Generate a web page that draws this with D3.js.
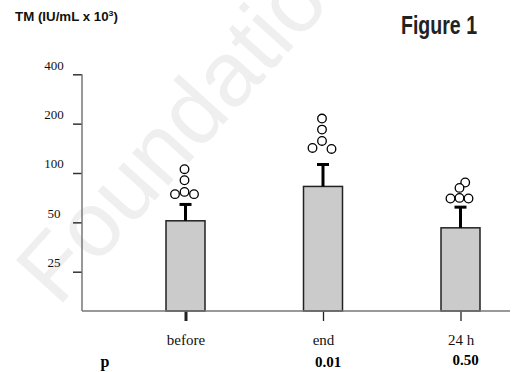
<!DOCTYPE html>
<html>
<head>
<meta charset="utf-8">
<script src="https://cdn.jsdelivr.net/npm/d3@7"></script>
<style>
  body { margin: 0; background: #fff; }
  svg { display: block; }
</style>
</head>
<body>
<div id="chart"></div>
<script>
// Time points and p values
const categories = ['before', 'end', '24 h'];
const pValues = ['', '0.01', '0.50'];

// Mean TM (IU/mL x 10^3) and upper error (mean + SE)
const means = [51.1, 82.8, 46.3];
const upperErr = [64.3, 112.7, 61.9];

// Individual points above each bar, with a small side slot for overlap
const pointsBefore = [105.5, 90.3, 76.7, 74.3, 74.3];
const pointsEnd = [214.8, 184, 156.9, 142.2, 140.2];
const points24h = [87.5, 81.1, 70.5, 69.9, 69.9];
const slotsBefore = [0, 0, 0, -1, 1];
const slotsEnd = [0, 0, 0, -1, 1];
const slots24h = [0.6, 0, 0, -0.95, 0.95];

const yTicks = [25, 50, 100, 200, 400];

const width = 513, height = 372;
const plotBottom = 311;

const svg = d3.select("#chart")
    .append("svg")
    .attr("width", width)
    .attr("height", height);

// watermark
svg.append("text")
    .attr("transform", "translate(58,308) rotate(-48)")
    .style("font-family", "'Liberation Sans', Arial, sans-serif")
    .style("font-size", "92px")
    .style("fill", "#efefef")
    .text("Foundation");

const x = d3.scalePoint()
    .domain(categories)
    .range([185.5, 460.5]);

const y = d3.scaleLog()
    .base(2)
    .domain([25, 400])
    .range([271.7, 74.3]);

// y axis
const yAxis = svg.append("g")
    .attr("transform", "translate(82,0)")
    .call(d3.axisLeft(y)
        .tickValues(yTicks)
        .tickSize(9)
        .tickSizeOuter(0)
        .tickPadding(19)
        .tickFormat(d3.format("d")));
yAxis.select(".domain").remove();
yAxis.selectAll(".tick line").attr("stroke", "#333").attr("stroke-width", 1.5);
yAxis.selectAll(".tick text")
    .attr("text-anchor", "middle")
    .attr("dy", "-0.4em")
    .style("font-family", "'Liberation Serif', 'Times New Roman', serif")
    .style("font-size", "13px")
    .style("fill", "#111");

svg.append("line")
    .attr("x1", 82).attr("x2", 82)
    .attr("y1", y(400)).attr("y2", plotBottom)
    .attr("stroke", "#777").attr("stroke-width", 1.5);

// x axis
const xAxis = svg.append("g")
    .attr("transform", "translate(0," + plotBottom + ")")
    .call(d3.axisBottom(x)
        .tickSize(10)
        .tickSizeOuter(0)
        .tickPadding(13));
xAxis.select(".domain").remove();
xAxis.selectAll(".tick line").attr("stroke", "#222").attr("stroke-width", 1.3);
xAxis.selectAll(".tick line").filter((d, i) => i === 0).attr("stroke-width", 3);
xAxis.selectAll(".tick text")
    .style("font-family", "'Liberation Serif', 'Times New Roman', serif")
    .style("font-size", "15px")
    .style("fill", "#111");

const barW = 39;

// bars
svg.selectAll(".bar")
    .data(categories)
    .enter()
    .append("rect")
    .attr("class", "bar")
    .attr("x", d => x(d) - barW / 2)
    .attr("y", (d, i) => y(means[i]))
    .attr("width", barW)
    .attr("height", (d, i) => plotBottom - y(means[i]))
    .style("fill", "#cbcbcb")
    .style("stroke", "#222")
    .style("stroke-width", 1.5);

svg.append("line")
    .attr("x1", 82).attr("x2", 510)
    .attr("y1", plotBottom).attr("y2", plotBottom)
    .attr("stroke", "#777").attr("stroke-width", 1.5);

// error bars
const err = svg.selectAll(".err")
    .data(categories)
    .enter()
    .append("g")
    .attr("class", "err");
err.append("line")
    .attr("x1", d => x(d)).attr("x2", d => x(d))
    .attr("y1", (d, i) => y(means[i]))
    .attr("y2", (d, i) => y(upperErr[i]))
    .attr("stroke", "#000").attr("stroke-width", 3);
err.append("line")
    .attr("x1", d => x(d) - 6).attr("x2", d => x(d) + 6)
    .attr("y1", (d, i) => y(upperErr[i]))
    .attr("y2", (d, i) => y(upperErr[i]))
    .attr("stroke", "#000").attr("stroke-width", 3);

// individual points
const pointSets = [pointsBefore, pointsEnd, points24h];
const slotSets = [slotsBefore, slotsEnd, slots24h];
const points = [];
categories.forEach(function (c, i) {
    pointSets[i].forEach(function (v, j) {
        points.push({ cat: c, value: v, slot: slotSets[i][j] });
    });
});

svg.selectAll(".pt")
    .data(points)
    .enter()
    .append("circle")
    .attr("class", "pt")
    .attr("cx", d => x(d.cat) - 1 + d.slot * 9.5)
    .attr("cy", d => y(d.value))
    .attr("r", 4.3)
    .style("fill", "#fff")
    .style("stroke", "#000")
    .style("stroke-width", 1.3);

// p row
svg.append("text")
    .attr("x", 105).attr("y", 367)
    .attr("text-anchor", "middle")
    .style("font-family", "'Liberation Serif', 'Times New Roman', serif")
    .style("font-weight", "bold")
    .style("font-size", "16px")
    .text("p");

svg.selectAll(".pval")
    .data(categories)
    .enter()
    .append("text")
    .attr("class", "pval")
    .attr("x", d => x(d) + 5)
    .attr("y", (d, i) => i === 2 ? 365 : 367)
    .attr("text-anchor", "middle")
    .style("font-family", "'Liberation Serif', 'Times New Roman', serif")
    .style("font-weight", "bold")
    .style("font-size", "15px")
    .text((d, i) => pValues[i]);

// titles
const title = svg.append("text")
    .attr("x", 15).attr("y", 21)
    .attr("textLength", 103)
    .attr("lengthAdjust", "spacingAndGlyphs")
    .style("font-family", "'Liberation Sans Narrow', 'Arial Narrow', 'Liberation Sans', sans-serif")
    .style("font-weight", "bold")
    .style("font-size", "12px")
    .style("fill", "#111");
title.append("tspan").text("TM (IU/mL x 10");
title.append("tspan").attr("dy", -5).style("font-size", "8px").text("3");
title.append("tspan").attr("dy", 5).text(")");

svg.append("text")
    .attr("x", 401).attr("y", 34)
    .attr("textLength", 76)
    .attr("lengthAdjust", "spacingAndGlyphs")
    .style("font-family", "'Liberation Sans Narrow', 'Arial Narrow', 'Liberation Sans', sans-serif")
    .style("font-weight", "bold")
    .style("font-size", "25px")
    .style("fill", "#222")
    .text("Figure 1");
</script>
</body>
</html>
